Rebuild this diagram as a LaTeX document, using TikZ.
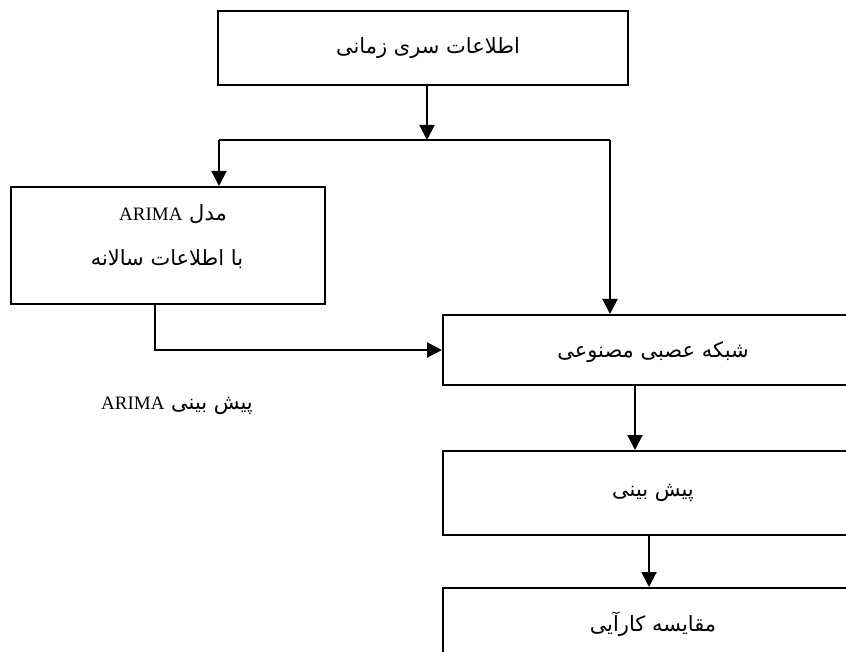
\documentclass[tikz,border=0pt]{standalone}
\usepackage{fontspec}
\setmainfont{Liberation Serif}
\newfontfamily\arabicfont[Script=Arabic]{DejaVu Sans}
\TeXXeTstate=1
\usetikzlibrary{arrows.meta}
\tikzset{
  box/.style={draw, line width=2pt, rectangle, inner sep=0pt, font=\fontsize{21}{24}\selectfont},
  arr/.style={line width=2pt, -{Triangle[length=15pt,width=15pt]}},
  conn/.style={line width=2pt},
  lbl/.style={inner sep=0pt, font=\fontsize{21}{24}\selectfont}
}
\begin{document}
\begin{tikzpicture}[x=1pt,y=-1pt]
\useasboundingbox (0,0) rectangle (846,652);
\clip (0,0) rectangle (846,652);
% boxes
\node[box, minimum width=410pt, minimum height=74pt] (top) at (423,48) {};
\node[lbl] (toptext) at (428,48) {\arabicfont\beginR اطلاعات سری زمانی\endR};
\node[box, minimum width=314pt, minimum height=117pt] (left) at (168,245.5) {};
\node[lbl] (l1) at (173,214) {\arabicfont\beginR مدل \beginL\rmfamily\fontsize{19}{22}\selectfont ARIMA\endL\endR};
\node[lbl] (l2) at (167,259) {\arabicfont\beginR با اطلاعات سالانه\endR};
\node[box, minimum width=420pt, minimum height=70pt] (ann) at (653,350) {};
\node[lbl] (anntext) at (653,352) {\arabicfont\beginR شبکه عصبی مصنوعی\endR};
\node[box, minimum width=420pt, minimum height=84pt] (pred) at (653,493) {};
\node[lbl] (predtext) at (653,493) {\arabicfont\beginR پیش بینی\endR};
\node[box, minimum width=420pt, minimum height=84pt, anchor=north] (cmp) at (653,587) {};
\node[lbl] (cmptext) at (653,624) {\arabicfont\beginR مقایسه کارآیی\endR};
\node[lbl] (arlabel) at (177,406) {\arabicfont\beginR پیش بینی \beginL\rmfamily\fontsize{19}{22}\selectfont ARIMA\endL\endR};
% connectors
\coordinate (j) at (427,140);
\coordinate (jl) at (219,140);
\coordinate (jr) at (610,140);
\coordinate (lb) at (155,353);
\coordinate (a1) at (635,0);
\coordinate (a2) at (649,0);
\draw[arr] (top.south -| j) -- (j);
\draw[conn] (jl) -- (jr);
\draw[arr] (jl) -- (jl |- left.north);
\draw[arr] (jr) -- (jr |- ann.north);
\draw[arr] (left.south -| lb) |- (ann.west);
\draw[arr] (ann.south -| a1) -- (pred.north -| a1);
\draw[arr] (pred.south -| a2) -- (cmp.north -| a2);
\end{tikzpicture}
\end{document}
